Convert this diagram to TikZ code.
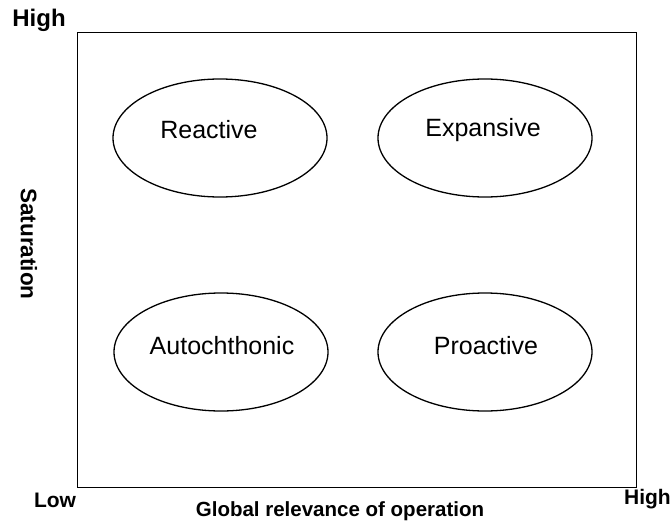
\documentclass[tikz,border=0pt]{standalone}
\usepackage{fontspec}
\setmainfont{Liberation Sans}
\usetikzlibrary{shapes.geometric}
\begin{document}
\begin{tikzpicture}[x=1pt,y=-1pt,
  quad/.style={draw=black,line width=1.3pt,ellipse,minimum width=214pt,minimum height=118pt,inner sep=0pt},
  qlabel/.style={font=\fontsize{25}{29}\selectfont},
  axlabel/.style={font=\fontsize{21}{24}\selectfont\bfseries,inner sep=0pt}]
\useasboundingbox (0,0) rectangle (672,527);
\fill[white] (0,0) rectangle (672,527);
\node[draw=black,line width=1.3pt,minimum width=559pt,minimum height=455pt,inner sep=0pt,anchor=north west] (frame) at (77,32) {};
\node[quad] (reactive) at (220,138) {};
\node[quad] (expansive) at (485,138) {};
\node[quad] (autoch) at (221,352) {};
\node[quad] (proactive) at (485,352) {};
\node[qlabel] (treactive) at (209,130) {Reactive};
\node[qlabel] (texpansive) at (483,130) {Expansive};
\node[qlabel] (tautoch) at (222,346) {Autochthonic};
\node[qlabel] (tproactive) at (486,346) {Proactive};
\node[axlabel,font=\fontsize{24}{28}\selectfont\bfseries] (hightop) at (39,20) {High};
\node[axlabel] (low) at (55,500) {Low};
\node[axlabel,anchor=east] (highright) at (671,499) {High};
\node[axlabel,font=\fontsize{20.5}{24}\selectfont\bfseries] (xlabel) at (340,511) {Global relevance of operation};
\node[axlabel,font=\fontsize{22.5}{26}\selectfont\bfseries,rotate=-90] (ylabel) at (29,244) {Saturation};
\end{tikzpicture}
\end{document}
